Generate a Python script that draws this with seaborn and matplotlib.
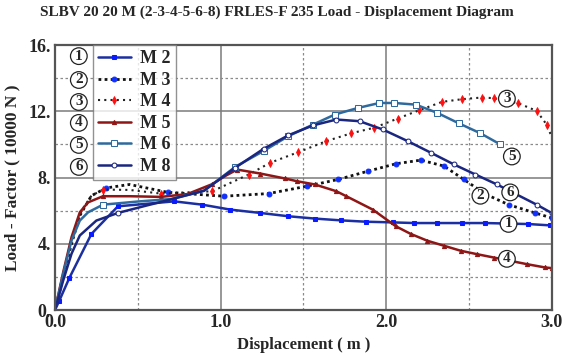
import matplotlib.pyplot as plt
import seaborn as sns
import numpy as np

sns.set_style("white")
plt.rcParams['font.family'] = ['Liberation Serif', 'DejaVu Serif']
plt.rcParams['font.weight'] = 'bold'

# values
m2_x = [0, 0.026, 0.086, 0.22, 0.38, 0.72, 0.89, 1.06, 1.24, 1.41, 1.57, 1.73, 1.88, 2.04, 2.17, 2.31, 2.46, 2.60, 2.86, 2.99]
m2_y = [0, 0.56, 1.92, 4.59, 6.26, 6.56, 6.36, 6.06, 5.86, 5.66, 5.52, 5.41, 5.33, 5.29, 5.25, 5.25, 5.25, 5.25, 5.19, 5.11]

m3_x = [0, 0.05, 0.1, 0.15, 0.22, 0.31, 0.45, 0.68, 1.02, 1.29, 1.52, 1.71, 1.89, 2.06, 2.21, 2.35, 2.47, 2.60, 2.74, 2.90, 3.0]
m3_y = [0, 2.0, 4.0, 5.7, 6.9, 7.37, 7.58, 7.11, 6.87, 7.03, 7.47, 7.88, 8.38, 8.83, 9.05, 8.69, 7.88, 7.0, 6.36, 5.86, 5.56]

m4_x = [0, 0.05, 0.1, 0.16, 0.22, 0.29, 0.45, 0.64, 0.95, 1.17, 1.30, 1.47, 1.64, 1.79, 1.93, 2.07, 2.20, 2.34, 2.46, 2.58, 2.65, 2.80, 2.91, 2.97, 3.0]
m4_y = [0, 2.2, 4.2, 6.0, 6.9, 7.27, 7.25, 7.03, 7.17, 8.18, 8.89, 9.53, 10.2, 10.67, 11.01, 11.56, 12.06, 12.57, 12.73, 12.83, 12.79, 12.48, 12.02, 11.2, 10.47]

m5_x = [0, 0.05, 0.1, 0.15, 0.2, 0.29, 0.45, 0.64, 0.8, 0.95, 1.03, 1.10, 1.24, 1.39, 1.46, 1.57, 1.70, 1.76, 1.92, 2.06, 2.15, 2.25, 2.35, 2.45, 2.55, 2.65, 2.85, 2.96, 3.0]
m5_y = [0, 2.3, 4.4, 5.9, 6.5, 6.87, 6.87, 6.83, 7.0, 7.6, 8.1, 8.48, 8.24, 7.94, 7.78, 7.58, 7.17, 6.87, 6.06, 5.05, 4.59, 4.18, 3.88, 3.58, 3.37, 3.17, 2.77, 2.57, 2.53]

m6_x = [0, 0.05, 0.1, 0.15, 0.2, 0.29, 0.5, 0.7, 0.9, 1.09, 1.26, 1.41, 1.56, 1.69, 1.83, 1.96, 2.05, 2.18, 2.31, 2.44, 2.57, 2.69]
m6_y = [0, 2.2, 4.2, 5.4, 5.9, 6.36, 6.55, 6.7, 7.2, 8.65, 9.6, 10.5, 11.2, 11.8, 12.2, 12.5, 12.5, 12.4, 11.9, 11.27, 10.67, 10.0]

m8_x = [0, 0.05, 0.1, 0.15, 0.25, 0.38, 0.55, 0.67, 0.9, 1.09, 1.26, 1.41, 1.56, 1.70, 1.84, 1.98, 2.13, 2.27, 2.41, 2.54, 2.67, 2.91, 3.0]
m8_y = [0, 1.8, 3.4, 4.5, 5.4, 5.86, 6.3, 6.6, 7.2, 8.6, 9.73, 10.55, 11.15, 11.5, 11.4, 10.9, 10.2, 9.5, 8.79, 8.18, 7.58, 6.36, 5.86]

labels = ['M 2', 'M 3', 'M 4', 'M 5', 'M 6', 'M 8']
circ_nums = ['1', '2', '3', '4', '5', '6']
# where the circled numbers sit next to the curves
circ_x = [2.74, 2.57, 2.73, 2.73, 2.76, 2.75]
circ_y = [5.2, 6.9, 12.76, 3.09, 9.27, 7.1]

fig = plt.figure(figsize=(5.71, 3.53), dpi=100)
ax = fig.add_axes([0.0963, 0.1218, 0.8697, 0.7507])

styles = [
    dict(color='#1c2fa0', ls='-', lw=1.8, marker='s', ms=3.5, mfc='#0a1cff', mec='#0a1cff', markevery=list(range(1, 20))),
    dict(color='#111111', ls=(0, (1, 1.2)), lw=2.0, marker='o', ms=3.5, mfc='#1030ff', mec='#1030ff', markevery=[5] + list(range(7, 21))),
    dict(color='#222222', ls=(0, (1, 2.0)), lw=1.5, marker='d', ms=4, mew=0.6, mfc='#ff1010', mec='#ff1010', markevery=[5, 7] + list(range(8, 24))),
    dict(color='#8e1616', ls='-', lw=1.8, marker='^', ms=3, mfc='#8e1616', mec='#8e1616', markevery=[5, 7, 9] + list(range(11, 29))),
    dict(color='#2f6a9e', ls='-', lw=1.8, marker='s', ms=4, mfc='white', mec='#2f6a9e', markevery=[5] + list(range(9, 22))),
    dict(color='#1a2680', ls='-', lw=1.8, marker='o', ms=3.5, mfc='white', mec='#1a2680', markevery=[5] + list(range(9, 23))),
]

series = [(m2_x, m2_y), (m3_x, m3_y), (m4_x, m4_y), (m5_x, m5_y), (m6_x, m6_y), (m8_x, m8_y)]
for (xs, ys), lab, st in zip(series, labels, styles):
    sns.lineplot(x=xs, y=ys, ax=ax, sort=False, label=lab, **st)

ax.set_xlim(0, 3.0)
ax.set_ylim(0, 16)
ax.set_xticks([0, 1, 2, 3], labels=['0.0', '1.0', '2.0', '3.0'])
ax.set_yticks([0, 4, 8, 12, 16], labels=['0.', '4.', '8.', '12.', '16.'])
ax.set_xticks([0.5, 1.5, 2.5], minor=True)
ax.set_yticks([2, 6, 10, 14], minor=True)
ax.grid(which='major', color='#7a7a7a', lw=1.1, ls='-')
ax.grid(which='minor', color='#8a8a8a', lw=0.9, ls=(0, (2, 2)))
ax.set_axisbelow(True)
ax.tick_params(which='both', length=0, labelsize=13, pad=3)
for sp in ax.spines.values():
    sp.set_color('#555555')
    sp.set_linewidth(1.6)

ax.set_xlabel('Displacement ( m )', fontsize=12, fontweight='bold', labelpad=4)
ax.set_ylabel('Load - Factor ( 10000 N )', fontsize=12.5, fontweight='bold', labelpad=6)
fig.suptitle('SLBV 20 20 M (2-3-4-5-6-8) FRLES-F 235 Load - Displacement Diagram',
             x=0.485, y=0.985, fontsize=11, fontweight='bold')

circ_box = dict(boxstyle='circle,pad=0.12', fc='white', ec='#222222', lw=0.9)
for n, cx, cy in zip(circ_nums, circ_x, circ_y):
    ax.text(cx, cy, n, ha='center', va='center', fontsize=11, fontweight='bold', bbox=circ_box, zorder=5)

leg = ax.legend(loc='upper left', bbox_to_anchor=(0.076, 1.0), borderaxespad=0, fontsize=13,
                handlelength=1.8, handletextpad=0.5, labelspacing=0.25, frameon=True, fancybox=False,
                borderpad=0.3)
leg.get_frame().set_edgecolor('#777777')
leg.get_frame().set_linewidth(1.0)
for t in leg.get_texts():
    t.set_fontweight('bold')

leg_y = [0.958, 0.868, 0.785, 0.706, 0.623, 0.540]
for n, ly in zip(circ_nums, leg_y):
    ax.text(0.048, ly, n, transform=ax.transAxes, ha='center', va='center', fontsize=11,
            fontweight='bold', bbox=circ_box, zorder=6)

fig.savefig('out.png', dpi=100)
